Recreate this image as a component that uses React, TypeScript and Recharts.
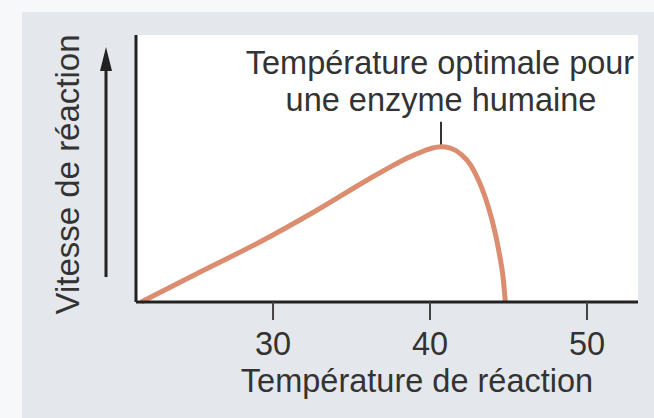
import React from 'react';
import {
  LineChart,
  Line,
  XAxis,
  YAxis,
  CartesianGrid,
  ReferenceLine,
  Label,
} from 'recharts';

// temperature (°C) and relative reaction speed
const temperatures = [21.6, 25.2, 29.4, 32.6, 36.9, 39.0, 40.7, 41.3, 42.0, 42.6, 43.1, 43.5, 43.9, 44.2, 44.45, 44.65, 44.8];
const speeds = [0, 10.8, 23.2, 33.7, 48.7, 55.1, 58.1, 57.6, 55.2, 51.2, 45.5, 39.5, 31.8, 24.5, 17, 9.5, 0];
const xTicks = [30, 40, 50];
const optimum = { t: 40.7, v: 58.1 };

const data = temperatures.map((t, i) => ({ t, v: speeds[i] }));

const FONT = '"Liberation Sans", Arial, Helvetica, sans-serif';
const TEXT = '#333';

function XLabel(props: any) {
  const vb = props.viewBox || {};
  return (
    <text
      x={vb.x + vb.width / 2 + 30}
      y={vb.y + 90}
      textAnchor="middle"
      fontFamily={FONT}
      fontSize={32.5}
      fill={TEXT}
    >
      Température de réaction
    </text>
  );
}

function YLabel(props: any) {
  const vb = props.viewBox || {};
  const ax = vb.x + vb.width - 30;
  const top = vb.y + 12;
  return (
    <g>
      <text
        transform={`translate(${vb.x + vb.width - 57}, ${vb.y + vb.height / 2 + 6}) rotate(-90)`}
        textAnchor="middle"
        fontFamily={FONT}
        fontSize={33}
        fill={TEXT}
      >
        Vitesse de réaction
      </text>
      <line x1={ax} y1={top + 20} x2={ax} y2={vb.y + 242} stroke="#222" strokeWidth={3} />
      <polygon points={`${ax},${top} ${ax - 6},${top + 24} ${ax + 6},${top + 24}`} fill="#222" />
    </g>
  );
}

function OptimumLabel(props: any) {
  const vb = props.viewBox || {};
  const x = vb.x ?? vb.x1;
  const y = vb.y ?? Math.min(vb.y1, vb.y2);
  return (
    <text textAnchor="middle" fontFamily={FONT} fontSize={32.5} fill={TEXT}>
      <tspan x={x - 1} y={y - 48}>Température optimale pour</tspan>
      <tspan x={x} y={y - 11}>une enzyme humaine</tspan>
    </text>
  );
}

export default function App() {
  return (
    <div style={{ position: 'absolute', left: 0, top: 0, width: 654, height: 418, background: '#f7f8f9' }}>
      <div style={{ position: 'absolute', left: 22, top: 12, right: 0, bottom: 0, background: '#e4e8ec' }} />
      <div style={{ position: 'absolute', left: 0, top: 0 }}>
        <LineChart width={654} height={418} data={data} margin={{ top: 35, right: 16, bottom: 86, left: 106 }}>
          <CartesianGrid horizontal={false} vertical={false} fill="#ffffff" />
          <XAxis
            dataKey="t"
            type="number"
            domain={[21.27, 53.25]}
            ticks={xTicks}
            allowDataOverflow
            height={30}
            axisLine={{ stroke: '#222', strokeWidth: 3 }}
            tickLine={{ stroke: '#444', strokeWidth: 2 }}
            tickSize={18}
            tickMargin={12}
            tick={{ fontFamily: FONT, fontSize: 32.5, fill: TEXT }}
          >
            <Label content={<XLabel />} />
          </XAxis>
          <YAxis
            type="number"
            domain={[0, 100]}
            width={30}
            tick={false}
            tickLine={false}
            axisLine={{ stroke: '#222', strokeWidth: 3 }}
          >
            <Label content={<YLabel />} />
          </YAxis>
          <ReferenceLine
            segment={[
              { x: optimum.t, y: optimum.v },
              { x: optimum.t, y: optimum.v + 9.4 },
            ]}
            stroke="#333"
            strokeWidth={2}
            label={<OptimumLabel />}
          />
          <Line
            type="monotone"
            dataKey="v"
            stroke="#dc8d70"
            strokeWidth={5}
            dot={false}
            isAnimationActive={false}
          />
        </LineChart>
      </div>
    </div>
  );
}
